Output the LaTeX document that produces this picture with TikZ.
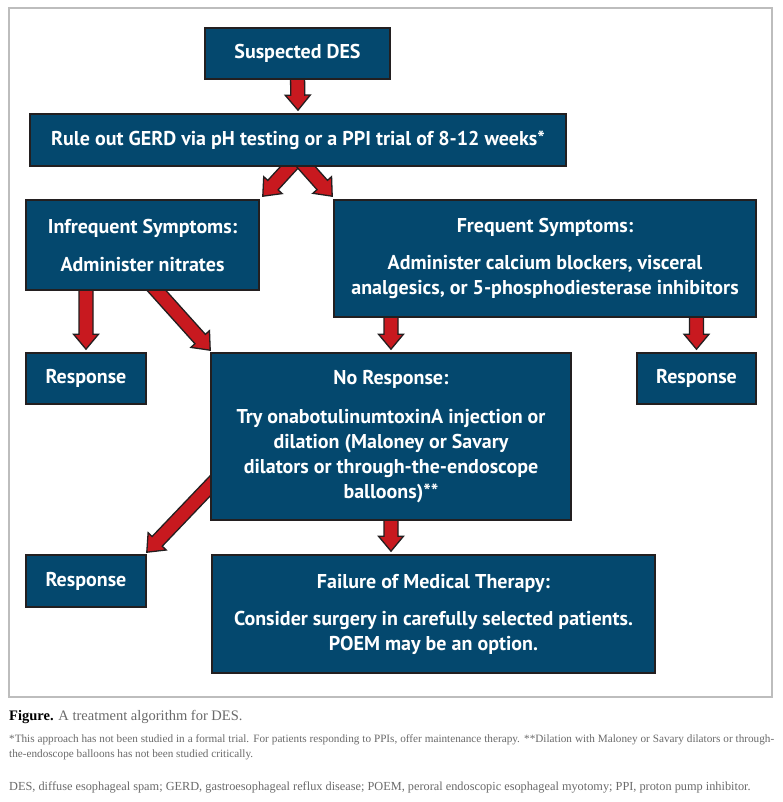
\documentclass[tikz,border=0pt]{standalone}
\usepackage{fontspec}
\setmainfont{Liberation Serif}
\newfontfamily\boxfont{PT Sans}
\usetikzlibrary{calc,backgrounds}
\definecolor{boxblue}{HTML}{04486E}
\definecolor{edge}{HTML}{231F20}
\definecolor{arrowred}{HTML}{C8191F}
\definecolor{framegray}{HTML}{BDBDBD}
\definecolor{notegray}{HTML}{6A6A6A}
\newcommand{\Shaft}{7pt}
\newcommand{\Wing}{12.5pt}
\newcommand{\Head}{15pt}
% a broad red arrow from #1 (tail) to #2 (tip)
\newcommand{\fatarrow}[2]{%
  \path ($(#2)!\Head!(#1)$) coordinate (fa-h);
  \filldraw[redarrow] ($(#1)!\Shaft!90:(#2)$) -- ($(fa-h)!\Shaft!90:(#2)$) -- ($(fa-h)!\Wing!90:(#2)$)
    -- (#2) -- ($(fa-h)!\Wing!-90:(#2)$) -- ($(fa-h)!\Shaft!-90:(#2)$) -- ($(#1)!\Shaft!-90:(#2)$) -- cycle;
}

\begin{document}
\begin{tikzpicture}[x=1pt, y=-1pt,
    box/.style={draw=edge, fill=boxblue, line width=1.6pt, text=white, inner sep=0pt, align=center,
      font={\boxfont\bfseries\fontsize{20}{25}\selectfont}},
    redarrow/.style={fill=arrowred, draw=edge, line width=1.3pt, line join=miter},
  ]
% --- Page and frame ------------------------------------------------------------------
\useasboundingbox (0,0) rectangle (783,802);
\draw[framegray, line width=1.2pt] (9,8) rectangle (772,697);

% --- The boxes -----------------------------------------------------------------------
\node[box, minimum width=185pt, minimum height=51pt] (suspect) at (297.5,53.5) {Suspected DES};
\node[box, minimum width=536pt, minimum height=52pt] (rule) at (298,140)
  {Rule out GERD via pH testing or a PPI trial of 8-12 weeks*};
\node[box, minimum width=233pt, minimum height=90pt] (infreq) at (142.5,245)
  {Infrequent Symptoms:\\[13pt] Administer nitrates};
\node[box, minimum width=422pt, minimum height=117pt] (freq) at (545,258.5)
  {Frequent Symptoms:\\[12pt] Administer calcium blockers, visceral\\ analgesics, or 5-phosphodiesterase inhibitors};
\node[box, minimum width=120pt, minimum height=51pt] (resp1) at (86,378.5) {Response};
\node[box, minimum width=360pt, minimum height=167pt] (noresp) at (391,436.5)
  {No Response:\\[14pt] Try onabotulinumtoxinA injection or\\ dilation (Maloney or Savary\\ dilators or through-the-endoscope\\ balloons)**};
\node[box, minimum width=119pt, minimum height=51pt] (respR) at (696.5,378.5) {Response};
\node[box, minimum width=120pt, minimum height=52pt] (resp2) at (86,581) {Response};
\node[box, minimum width=443pt, minimum height=118pt] (fail) at (433.5,614)
  {Failure of Medical Therapy:\\[12pt] Consider surgery in carefully selected patients.\\ POEM may be an option.};

% --- Arrows, behind the boxes -----------------------------------------------------------
\begin{scope}[on background layer]
  \fill[white] (0,0) rectangle (783,802);
  \fatarrow{$(suspect.south)+(0,-5)$}{$(rule.north)+(0,-3)$}
  \coordinate (split) at ($(rule.south)+(0,-9)$);
  \fatarrow{split}{$(infreq.north east)+(3,-3)$}
  \fatarrow{split}{$(freq.north west)+(-1,-3)$}
  \coordinate (r1) at (resp1.north |- infreq.south);
  \fatarrow{$(r1)+(0,-5)$}{$(resp1.north)+(0,-3)$}
  \fatarrow{$(infreq.south)+(8,-7)$}{$(noresp.north west)+(0,-2)$}
  \coordinate (n1) at (noresp.north |- freq.south);
  \fatarrow{$(n1)+(0,-5)$}{$(noresp.north)+(0,-3)$}
  \coordinate (r2) at (respR.north |- freq.south);
  \fatarrow{$(r2)+(0,-5)$}{$(respR.north)+(0,-3)$}
  \fatarrow{$(noresp.west)+(7,42)$}{$(resp2.north east)+(0,-2)$}
  \coordinate (f1) at (noresp.south |- fail.north);
  \fatarrow{$(noresp.south)+(0,-5)$}{$(f1)+(0,-3)$}
\end{scope}

% --- Caption and notes (last) -------------------------------------------------------------
\node[anchor=west, inner sep=0pt] (caption) at (9,717)
  {\fontsize{14.5}{17}\selectfont\textbf{Figure.} \textcolor{notegray}{A treatment algorithm for DES.}};
\node[anchor=north west, inner sep=0pt, text width=765pt, align=justify, text=notegray,
  font={\fontsize{11.2}{15}\selectfont}] (notes) at (9,734)
  {*This approach has not been studied in a formal trial. For patients responding to PPIs, offer maintenance therapy. **Dilation with Maloney or Savary dilators or through-\linebreak the-endoscope balloons has not been studied critically.};
\node[anchor=west, inner sep=0pt, text=notegray, font={\fontsize{12.3}{14}\selectfont}] (abbrev) at (9,787)
  {DES, diffuse esophageal spam; GERD, gastroesophageal reflux disease; POEM, peroral endoscopic esophageal myotomy; PPI, proton pump inhibitor.};
\end{tikzpicture}
\end{document}
